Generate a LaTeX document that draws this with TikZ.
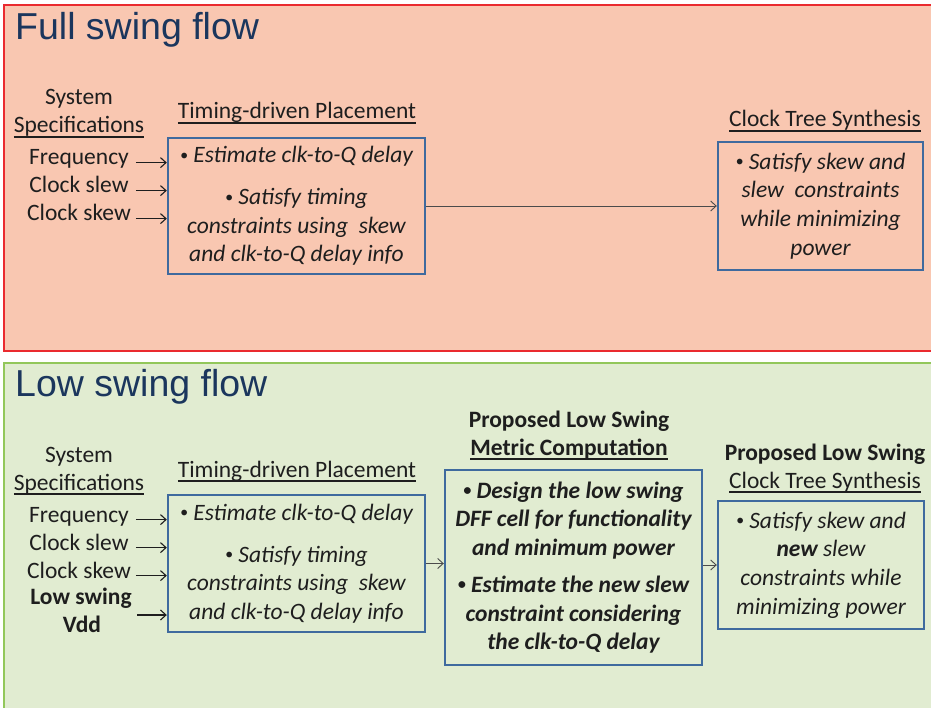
\documentclass[tikz,border=0pt]{standalone}
\usepackage{fontspec}
\setmainfont{Carlito}
\newfontfamily\arialfont{Liberation Sans}
\usetikzlibrary{arrows.meta}

\definecolor{ink}{HTML}{1E1E1E}
\definecolor{navy}{HTML}{1B365D}
\definecolor{peach}{HTML}{F9C7B1}
\definecolor{redline}{HTML}{EA2A2F}
\definecolor{sage}{HTML}{E1ECD1}
\definecolor{greenline}{HTML}{92C75A}
\definecolor{boxblue}{HTML}{3F6A9E}

% underline a short heading at a fixed depth below the baseline
\newcommand\ulbar[1]{\setbox0\hbox{#1}\rlap{\rule[-4.6pt]{\wd0}{1.5pt}}\box0}
% small list bullet
\newcommand\dotmark{{\fontsize{16}{16}\selectfont\raisebox{2.5pt}{•}}}

\tikzset{
  lbl/.style={font=\fontsize{23.5}{28.6}\selectfont, text=ink, inner sep=0pt, anchor=base},
  boldlbl/.style={lbl, font=\fontsize{23.5}{28.6}\selectfont\bfseries},
  flowbox/.style={draw=boxblue, line width=2.4pt, align=center, text=ink, inner sep=0pt,
    font=\fontsize{23.5}{28.6}\selectfont\itshape},
  feed/.style={draw=ink, line width=1.1pt, -{Straight Barb[length=5.5pt,width=10pt,line width=1.1pt]}},
  link/.style={draw=ink!80, line width=0.9pt, -{Straight Barb[length=5.5pt,width=10pt,line width=0.9pt]}},
  heading/.style={font=\arialfont\fontsize{37.5}{37.5}\selectfont, text=navy, inner sep=0pt, anchor=base west}
}

\begin{document}
\begin{tikzpicture}[x=1pt,y=-1pt]
\useasboundingbox (0,0) rectangle (931,708);
\clip (0,0) rectangle (931,708);

% ---------- section frames ----------
\draw[draw=redline, fill=peach, line width=2pt] (4,5) rectangle (945,351);
\draw[draw=greenline, fill=sage, line width=2pt] (4,363) rectangle (945,725);

\node[heading] (fullhead) at (15,40) {Full swing flow};
\node[heading] (lowhead) at (15,396) {Low swing flow};

% ---------- full swing flow ----------
\node[lbl] (sysA) at (79,105) {System};
\node[lbl] (specA) at (79,133) {\ulbar{Specifications}};
\node[lbl] (freqA) at (79,165) {Frequency};
\node[lbl] (slewA) at (79,193) {Clock slew};
\node[lbl] (skewA) at (79,221) {Clock skew};

\node[lbl] (tdpAhead) at (297,119) {\ulbar{Timing-driven Placement}};
\node[flowbox, minimum width=257pt, minimum height=136pt] (tdpA) at (296.5,206)
  {\dotmark\ Estimate clk-to-Q delay\\[13.4pt]
   \dotmark\ Satisfy timing\\ constraints using\ \ skew\\ and clk-to-Q delay info};

\node[lbl] (ctsAhead) at (825,127) {\ulbar{Clock Tree Synthesis}};
\node[flowbox, minimum width=205pt, minimum height=128pt] (ctsA) at (820.5,206)
  {\dotmark\ Satisfy skew and\\ slew\ \ constraints\\ while minimizing\\ power};

\foreach \src in {freqA,slewA,skewA}
  \draw[feed] ([xshift=-31pt]tdpA.west |- \src.mid) -- (tdpA.west |- \src.mid);
\draw[link] (tdpA.east) -- (tdpA.east -| ctsA.west);

% ---------- low swing flow ----------
\node[lbl] (sysB) at (79,462) {System};
\node[lbl] (specB) at (79,490) {\ulbar{Specifications}};
\node[lbl] (freqB) at (79,522) {Frequency};
\node[lbl] (slewB) at (79,550) {Clock slew};
\node[lbl] (skewB) at (79,578) {Clock skew};
\node[boldlbl] (lowB) at (81,604) {Low swing};
\node[boldlbl] (vddB) at (82,632) {Vdd};
\coordinate (vddin) at (137,615);

\node[lbl] (tdpBhead) at (297,477) {\ulbar{Timing-driven Placement}};
\node[flowbox, minimum width=257pt, minimum height=137pt] (tdpB) at (296.5,563.5)
  {\dotmark\ Estimate clk-to-Q delay\\[13.4pt]
   \dotmark\ Satisfy timing\\ constraints using\ \ skew\\ and clk-to-Q delay info};

\node[boldlbl] (lsmhead1) at (569,427) {Proposed Low Swing};
\node[boldlbl] (lsmhead2) at (569,455) {\ulbar{Metric Computation}};
\node[flowbox, font=\fontsize{23.5}{28.6}\selectfont\bfseries\itshape,
      minimum width=257pt, minimum height=195pt] (lsm) at (573.5,567.5)
  {\dotmark\ Design the low swing\\ DFF cell for functionality\\ and minimum power\\[8.4pt]
   \dotmark\ Estimate the new slew\\ constraint considering\\ the clk-to-Q delay};

\node[boldlbl] (ctsBhead1) at (825,460) {Proposed Low Swing};
\node[lbl] (ctsBhead2) at (825,488) {\ulbar{Clock Tree Synthesis}};
\node[flowbox, minimum width=206pt, minimum height=128pt] (ctsB) at (821,565)
  {\dotmark\ Satisfy skew and\\ \textbf{new} slew\\ constraints while\\ minimizing power};

\foreach \src in {freqB,slewB,skewB}
  \draw[feed] ([xshift=-31pt]tdpB.west |- \src.mid) -- (tdpB.west |- \src.mid);
\draw[feed] (vddin) -- (vddin -| tdpB.west);
\draw[link] (tdpB.east) -- (tdpB.east -| lsm.west);
\draw[link] (ctsB.west -| lsm.east) -- (ctsB.west);
\end{tikzpicture}
\end{document}
